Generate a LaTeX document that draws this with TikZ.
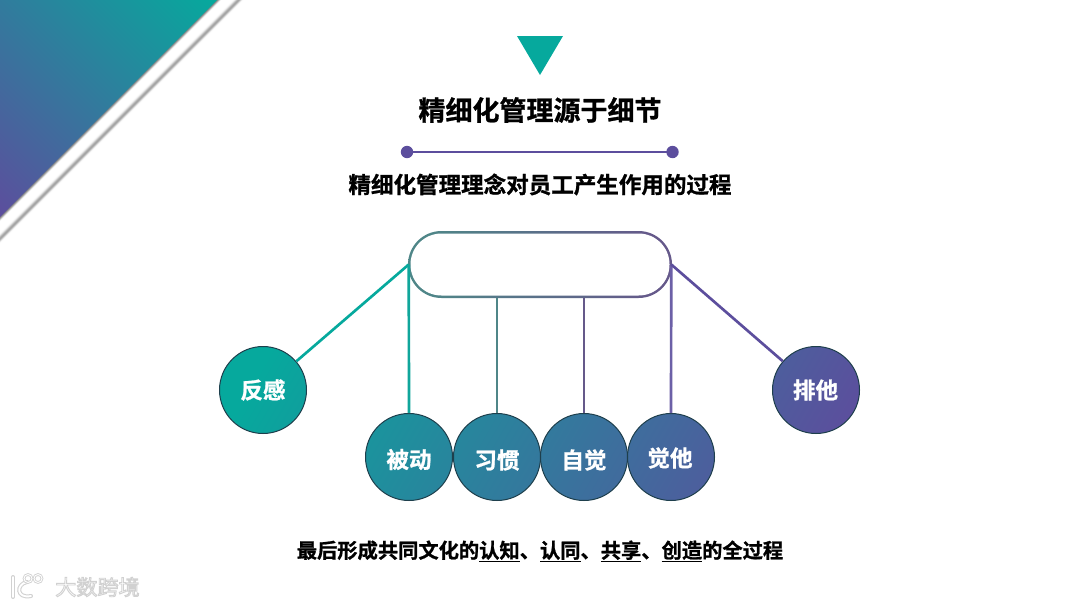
\documentclass[tikz,border=0pt]{standalone}
\usepackage{fontspec}
\usetikzlibrary{shapes.misc,shadings}
\setmainfont{Noto Sans CJK SC}[BoldFont={Noto Sans CJK SC Bold},BoldFeatures={FakeBold=1}]
\newfontfamily\wmfont{Noto Sans CJK SC}
\definecolor{tealc}{HTML}{06A99D}
\definecolor{purpc}{HTML}{5C4E9D}
\definecolor{discline}{HTML}{1E3F4C}
\definecolor{pillL}{HTML}{4F8688}
\definecolor{pillR}{HTML}{65598A}
\pgfdeclarehorizontalshading{cornergrad}{100bp}{color(0bp)=(purpc); color(14.6bp)=(purpc); color(85.4bp)=(tealc); color(100bp)=(tealc)}
\pgfdeclarehorizontalshading{discgrad}{100bp}{color(0bp)=(tealc); color(33bp)=(tealc); color(67bp)=(purpc); color(100bp)=(purpc)}
\pgfdeclarehorizontalshading{pillgrad}{100bp}{color(0bp)=(pillL); color(30bp)=(pillL); color(70bp)=(pillR); color(100bp)=(pillR)}
\newcommand{\ul}[1]{\underline{#1}}
\tikzset{
  disc/.style={circle,minimum size=65.25pt,inner sep=0pt,draw=discline,line width=0.75pt},
  disctext/.style={inner sep=0pt,text=white,font=\fontsize{16.9pt}{20pt}\selectfont\bfseries},
  link/.style={line width=2pt},
  heading/.style={font=\fontsize{20.25pt}{24pt}\selectfont\bfseries,text=black,inner sep=0pt},
  subheading/.style={font=\fontsize{16.9pt}{20pt}\selectfont\bfseries,text=black,inner sep=0pt},
  footer/.style={font=\fontsize{15.2pt}{18pt}\selectfont\bfseries,text=black,inner sep=0pt}
}
\begin{document}
\begin{tikzpicture}[x=0.75pt,y=-0.75pt]
\useasboundingbox (0,0) rectangle (1080,607);
\fill[white] (0,0) rectangle (1080,607);
% corner band
\foreach \o/\g in {243/2,242/10,241/22,240/32,239/36,238/32,237/24,236/14,235/6,234/2,233/0,222/0,221/6,220/20,219/36,218/48}{
  \fill[black!\g!white] (\o,0) -- (0,\o) -- (0,0) -- cycle;
}
\begin{scope}
  \clip (0,0) -- (217,0) -- (0,217) -- cycle;
  \shade[shading=cornergrad,shading angle=45] (0,0) rectangle (217,217);
\end{scope}
% top marks
\fill[fill=tealc] (517,36) -- (563,36) -- (540,75) -- cycle;
\node[heading] (title) at (540,110) {精细化管理源于细节};
\coordinate (ruleL) at (407,152);
\coordinate (ruleR) at (672.5,152);
\draw[purpc,line width=2pt] (ruleL) -- (ruleR);
\fill[purpc] (ruleL) circle (6.2);
\fill[purpc] (ruleR) circle (6.2);
\node[subheading] (sub) at (540,184.5) {精细化管理理念对员工产生作用的过程};
% gradient discs
\begin{scope}
  \clip (263,390) circle (43.5) (816,390) circle (43.5) (409,457) circle (43.5) (497,457) circle (43.5) (584,457) circle (43.5) (671,457) circle (43.5);
  \shade[shading=discgrad,shading angle=-30] (139.5,24) rectangle (939.5,824);
\end{scope}
% gradient pill ring
\begin{scope}
  \clip[rounded corners=25.1pt] (408,231) rectangle (672,298);
  \shade[shading=pillgrad,shading angle=0] (400,125) rectangle (680,405);
\end{scope}
\fill[white,rounded corners=23.2pt] (410.5,233.5) rectangle (669.5,295.5);
\node[rounded rectangle,minimum width=196.5pt,minimum height=50.25pt,inner sep=0pt] (pill) at (540,264.5) {};
\node[disc] (fan) at (263,390) {};
\node[disc] (pai) at (816,390) {};
\node[disc] (bei) at (409,457) {};
\node[disc] (xi) at (497,457) {};
\node[disc] (zi) at (584,457) {};
\node[disc] (jue) at (671,457) {};
\node[disctext] (fant) at (263,390) {反感};
\node[disctext] (pait) at (815.5,390) {排他};
\node[disctext] (beit) at (409,459.5) {被动};
\node[disctext] (xit) at (497,460) {习惯};
\node[disctext] (zit) at (584,460) {自觉};
\node[disctext] (juet) at (670,458) {觉他};
\draw[link,color=tealc] (pill.west) -- (fan);
\draw[link,color=tealc!92!gray] (pill.west) -- (bei.north);
\draw[link,color=pillL] (pill.south -| xi.north) -- (xi.north);
\draw[link,color=pillR] (pill.south -| zi.north) -- (zi.north);
\draw[link,color=purpc!90!white] (pill.east) -- (jue.north);
\draw[link,color=purpc] (pill.east) -- (pai);
\node[footer] (foot) at (540,551.5) {最后形成共同文化的\ul{认知}、\ul{认同}、\ul{共享}、\ul{创造}的全过程};
\node[inner sep=0pt,text=white,font=\fontsize{15.8pt}{18pt}\selectfont\wmfont] (wm) at (97.5,587) {\special{pdf:code 2 Tr 0.7 w 0.82 0.82 0.82 RG 1 1 1 rg}大数跨境\special{pdf:code 0 Tr}};
% watermark logo
\draw[black!18,line width=3pt,line cap=round] (13,577) -- (13,597);
\draw[white,line width=1.4pt,line cap=round] (13,577) -- (13,597);
\draw[black!18,line width=3pt,line cap=round] (27,582) .. controls (16,584) and (16,599) .. (31,596);
\draw[white,line width=1.4pt,line cap=round] (27,582) .. controls (16,584) and (16,599) .. (31,596);
\draw[black!18,line width=2pt] (28,578.5) circle (4) (38,578.5) circle (4);
\draw[white,line width=0.7pt] (28,578.5) circle (4) (38,578.5) circle (4);
\end{tikzpicture}
\end{document}
